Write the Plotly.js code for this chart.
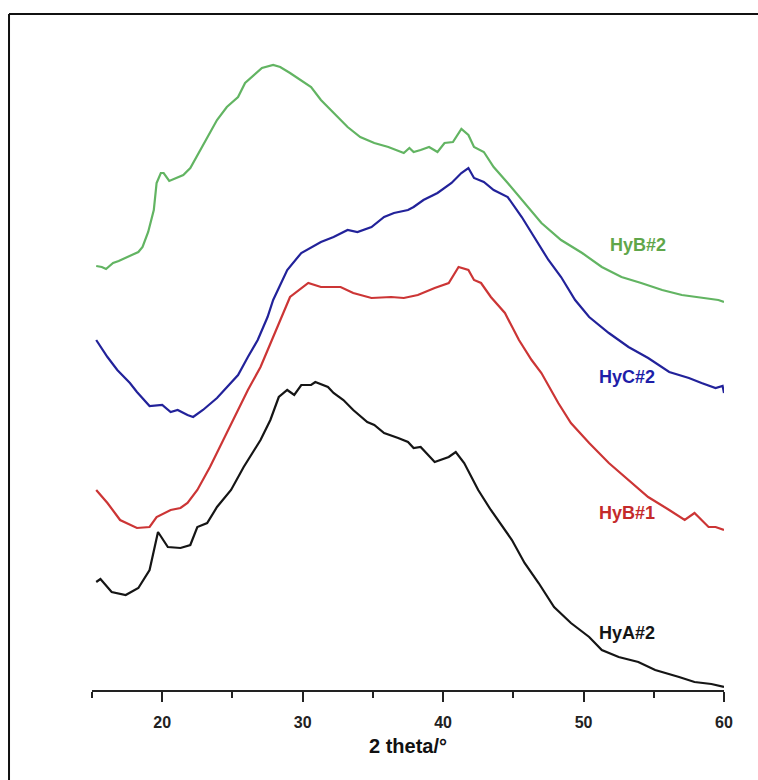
<!DOCTYPE html>
<html>
<head>
<meta charset="utf-8">
<script src="https://cdn.plot.ly/plotly-3.0.1.min.js"></script>
<style>html,body{margin:0;padding:0;background:#fff;}#chart{width:758px;height:780px;}</style>
</head>
<body>
<div id="chart"></div>
<script>
// HyB#2 (green)
var hyb2X = [15.3,15.7,16.0,16.3,16.5,16.9,17.2,17.6,17.9,18.3,18.6,19.0,19.4,19.6,19.9,20.1,20.5,21.1,21.5,22.0,22.6,23.2,23.9,24.6,25.4,25.9,26.5,27.1,27.9,28.4,29.1,29.9,30.6,31.3,32.2,33.2,34.1,35.1,36.1,37.2,37.6,37.9,38.4,39.0,39.6,40.1,40.7,41.3,41.8,42.2,42.9,43.6,44.6,45.6,47.0,48.4,49.9,51.3,52.7,54.1,55.6,57.0,58.4,59.6,60.0];
var hyb2Y = [424,423,421,425,427,429,431,433,435,438,443,458,480,507,517,517,509,513,515,522,537,553,570,583,593,607,615,622,625,623,617,610,603,590,577,563,553,547,543,537,542,538,540,543,538,547,548,561,555,543,538,523,507,490,467,450,437,423,413,407,400,395,392,390,388];
// HyC#2 (blue)
var hyc2X = [15.3,16.1,16.8,17.7,18.2,19.1,20.0,20.6,21.1,21.8,22.2,22.9,23.9,24.6,25.4,26.1,26.8,27.5,27.9,28.9,29.9,31.3,32.2,33.2,33.9,34.9,35.8,36.5,37.5,37.9,38.6,39.6,40.6,41.3,41.8,42.2,42.9,43.6,44.6,45.6,46.5,47.5,48.4,49.4,50.4,51.8,53.2,54.6,56.1,57.5,58.4,59.4,59.9,60.0];
var hyc2Y = [350,333,320,307,298,284,285,278,280,275,273,280,292,303,315,333,350,373,390,420,437,448,453,460,458,463,473,477,480,483,490,497,507,517,522,512,508,500,493,473,453,430,413,390,373,357,343,332,318,312,307,302,304,297];
// HyB#1 (red)
var hyb1X = [15.3,16.1,17.0,18.2,19.1,19.6,20.6,21.3,21.8,22.5,23.4,24.1,25.1,26.1,27.0,27.9,28.6,29.1,30.4,31.3,32.7,33.6,34.9,36.3,37.2,38.2,39.4,40.4,41.1,41.8,42.2,42.7,43.4,44.4,45.4,46.3,47.0,48.2,49.1,50.4,51.8,53.2,54.6,56.1,57.2,57.9,58.9,59.4,60.0];
var hyb1Y = [200,187,170,162,163,173,180,182,187,200,223,243,270,300,323,353,377,393,407,403,403,397,392,393,392,395,402,407,423,420,410,407,393,377,350,330,317,287,267,247,227,210,193,180,170,177,163,163,160];
// HyA#2 (black)
var hya2X = [15.3,15.6,16.4,17.4,18.3,19.1,19.7,20.4,21.3,22.0,22.5,23.2,23.9,24.9,25.8,27.0,27.7,28.3,28.9,29.4,29.9,30.6,30.9,31.8,32.2,32.9,33.6,34.6,35.1,35.8,36.8,37.5,37.9,38.4,39.4,40.4,40.9,41.5,42.5,43.4,44.9,45.8,46.8,47.9,49.1,50.4,51.3,52.5,53.9,55.1,56.8,57.9,59.1,60.0];
var hya2Y = [108,111,98,95,102,120,158,143,142,145,163,167,183,200,223,250,270,293,300,295,305,305,308,303,297,290,280,268,265,257,252,248,242,243,228,233,238,227,200,180,150,127,107,83,67,53,40,33,28,20,13,8,6,3];

var seriesNames = ['HyA#2','HyB#1','HyC#2','HyB#2'];
var lineColors = ['#151515','#cc3535','#22229a','#62b462'];
var labelColors = ['#151515','#c42a2a','#1e1ea8','#5fa64a'];
var labelX = [53.1, 53.1, 53.1, 53.9];
var labelY = [57, 177, 313, 445];
var tickVals = [20,30,40,50,60];

var xs = [hya2X, hyb1X, hyc2X, hyb2X];
var ys = [hya2Y, hyb1Y, hyc2Y, hyb2Y];

var traces = xs.map(function(x, i){
  return {x: x, y: ys[i], type: 'scatter', mode: 'lines', name: seriesNames[i],
    line: {color: lineColors[i], width: 2.2, shape: 'linear'}, hoverinfo: 'skip'};
});

var annotations = seriesNames.map(function(n, i){
  return {x: labelX[i], y: labelY[i], xref: 'x', yref: 'y', text: n, showarrow: false,
    xanchor: 'center', yanchor: 'middle',
    font: {family: 'Liberation Sans, Arial, sans-serif', size: 18, color: labelColors[i], weight: 'bold'}};
});

var layout = {
  width: 758, height: 780,
  margin: {l: 92, r: 34, t: 50, b: 90, pad: 0},
  paper_bgcolor: '#ffffff', plot_bgcolor: '#ffffff',
  showlegend: false,
  xaxis: {
    range: [15, 60], showgrid: false, zeroline: false,
    showline: true, linecolor: '#222', linewidth: 2,
    ticks: 'outside', ticklen: 10, tickwidth: 2, tickcolor: '#222',
    tickvals: tickVals, ticktext: tickVals.map(String),
    ticklabelstandoff: 7,
    tickfont: {family: 'Liberation Sans, Arial, sans-serif', size: 16, color: '#222', weight: 'bold'},
    minor: {tickvals: [15,25,35,45,55], ticks: 'outside', ticklen: 6, tickwidth: 2, tickcolor: '#222'},
    title: {text: '2 theta/°', standoff: 9,
      font: {family: 'Liberation Sans, Arial, sans-serif', size: 20, color: '#111', weight: 'bold'}}
  },
  yaxis: {range: [0, 640], visible: false, showgrid: false, zeroline: false},
  annotations: annotations,
  shapes: [
    {type: 'line', xref: 'paper', yref: 'paper', x0: -0.1313, x1: -0.1313, y0: -0.25, y1: 1.0563,
      line: {color: '#111', width: 2}},
    {type: 'line', xref: 'paper', yref: 'paper', x0: -0.1313, x1: 1.1, y0: 1.0563, y1: 1.0563,
      line: {color: '#111', width: 2}}
  ]
};

Plotly.newPlot('chart', traces, layout, {displayModeBar: false, staticPlot: true});
</script>
</body>
</html>
